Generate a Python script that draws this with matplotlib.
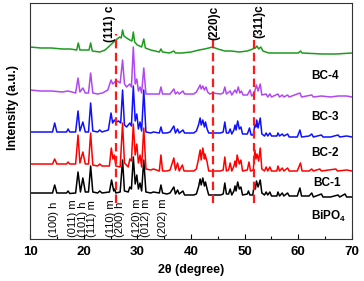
import matplotlib
matplotlib.use("Agg")
import matplotlib.pyplot as plt
from matplotlib.ticker import MultipleLocator

plt.rcParams['font.family'] = ['Liberation Sans', 'DejaVu Sans']
plt.rcParams['mathtext.fontset'] = 'custom'
plt.rcParams['mathtext.rm'] = 'Liberation Sans'
plt.rcParams['mathtext.bf'] = 'Liberation Sans:bold'

# ---------------- data (2theta in degree, intensity in a.u., stacked) -------------
bipo4_x = [10, 12, 14.2, 14.6, 15.0, 16.8, 17.1, 17.4, 18.5, 18.95, 19.4, 19.85, 20.3, 20.9, 21.3, 21.7,
           22.6, 23.0, 23.4, 24.8, 25.2, 25.6, 25.8, 26.0, 26.8, 27.25, 27.6, 28.3, 28.6, 28.9, 29.25, 29.6,
           29.9, 30.2, 30.5, 30.8, 31.2, 31.6, 32.5, 33.0, 34.1, 34.4, 34.7, 35.5, 36.1, 36.8, 37.1, 37.5,
           37.8, 38.5, 38.8, 40.5, 41.0, 41.4, 41.7, 41.9, 42.2, 42.5, 42.7, 43.0, 43.3, 44.0, 45.5, 46.0,
           46.3, 46.6, 47.0, 47.3, 47.6, 48.0, 48.2, 48.4, 48.7, 49.0, 49.3, 49.6, 50.5, 50.7, 51.0, 51.5,
           51.8, 52.0, 52.2, 52.5, 52.9, 53.2, 53.7, 54.0, 54.3, 54.7, 55.0, 56.0, 56.2, 56.5, 57.0, 57.3,
           58.0, 58.3, 59.8, 60.3, 60.6, 62.0, 62.5, 62.8, 64.3, 64.6, 66.0, 67.4, 67.7, 68.7, 69.0, 70]
bipo4_y = [46, 46, 46, 54, 46, 46, 48, 45.5, 46, 67, 47, 61, 47, 47, 73, 47,
           46, 48, 46, 47, 59, 48, 50, 46, 47, 79, 48, 47, 52, 50, 82, 55,
           64, 50, 56, 48, 79, 47, 46, 47, 46, 54, 46, 45, 46, 52, 45, 49,
           45, 48, 44, 44, 45, 52, 60, 54, 61, 53, 57, 50, 44, 44, 44, 45,
           56, 45, 45, 50, 44, 48, 53, 48, 57, 50, 52, 44, 45, 48, 44, 44,
           54, 50, 58, 52, 59, 46, 44, 47, 44, 47, 43, 43, 47, 43, 46, 43,
           46, 43, 43, 51, 43, 43, 46, 42, 45, 42, 42, 44, 42, 45, 42, 42]

bc1_x = [10, 12, 14.2, 14.6, 15.0, 16.8, 17.1, 17.4, 18.5, 18.95, 19.3, 19.85, 20.3, 20.9, 21.3, 21.7,
         22.6, 23.0, 23.4, 24.8, 25.15, 25.45, 25.7, 26.0, 26.8, 27.25, 27.6, 28.3, 28.6, 28.9, 29.25, 29.6,
         29.9, 30.2, 30.5, 30.8, 31.2, 31.6, 32.5, 33.0, 34.1, 34.4, 34.7, 35.5, 36.1, 36.8, 37.1, 37.5,
         37.8, 38.4, 38.7, 40.5, 41.0, 41.4, 41.7, 41.9, 42.2, 42.5, 42.6, 43.0, 43.3, 45.5, 46.0, 46.3,
         46.6, 47.0, 47.3, 47.6, 48.0, 48.2, 48.4, 48.6, 49.0, 49.3, 49.6, 50.5, 50.8, 51.1, 51.6, 51.9,
         52.1, 52.3, 52.6, 52.9, 53.2, 53.7, 54.0, 54.3, 54.7, 55.0, 56.0, 56.2, 56.5, 57.0, 57.3, 58.0,
         58.3, 59.8, 60.4, 60.7, 62.0, 62.5, 62.8, 64.0, 64.3, 67.0, 67.3, 69.0, 70]
bc1_y = [75, 75, 75, 80, 75, 75, 77, 75, 75, 104, 76, 87, 75, 75, 106, 74,
         73, 75, 73, 73, 91, 80, 84, 73, 72, 116, 76, 72, 80, 78, 115, 84,
         95, 76, 84, 72, 111, 70, 69, 70, 68, 84, 68, 68, 69, 81, 69, 76,
         68, 74, 68, 68, 70, 80, 89, 79, 91, 80, 85, 77, 68, 68, 69, 82,
         68, 69, 76, 68, 73, 78, 72, 84, 75, 79, 68, 69, 77, 68, 69, 89,
         80, 85, 78, 91, 70, 68, 72, 68, 72, 68, 68, 73, 68, 71, 68, 71,
         68, 68, 76, 68, 68, 70, 68, 70, 68, 70, 68, 69, 68]

bc2_x = [10, 12, 14.2, 14.6, 15.0, 16.8, 17.1, 17.4, 18.5, 18.95, 19.3, 19.85, 20.3, 20.9, 21.3, 21.7,
         22.6, 23.0, 23.4, 24.6, 25.1, 25.4, 25.7, 26.0, 26.5, 26.9, 27.25, 27.6, 28.0, 28.6, 28.9, 29.25,
         29.6, 29.9, 30.2, 30.5, 30.8, 31.2, 31.6, 32.5, 33.0, 34.1, 34.4, 34.7, 35.5, 36.1, 36.8, 37.1,
         37.5, 37.8, 38.5, 38.8, 40.5, 41.0, 41.4, 41.7, 41.9, 42.2, 42.5, 42.7, 43.0, 43.3, 45.5, 46.0,
         46.3, 46.6, 47.0, 47.3, 47.6, 48.0, 48.2, 48.4, 48.7, 49.0, 49.3, 49.6, 50.5, 50.9, 51.2, 51.6,
         51.9, 52.1, 52.25, 52.5, 52.9, 53.2, 53.7, 54.0, 54.3, 54.7, 55.0, 56.0, 56.2, 56.5, 57.0, 57.3,
         58.0, 58.3, 59.8, 60.3, 60.6, 62.0, 62.5, 62.8, 64.3, 64.6, 66.0, 67.4, 67.7, 69.0, 70]
bc2_y = [107, 107, 107, 116, 107, 107, 110, 107, 107, 128, 108, 117, 107, 107, 136, 108,
         107, 109, 107, 109, 126, 116, 119, 117, 118, 116, 149, 114, 112, 116, 113, 153,
         118, 125, 110, 117, 108, 149, 107, 106, 107, 106, 112, 106, 106, 107, 113, 106,
         110, 106, 109, 106, 106, 108, 114, 121, 114, 119, 112, 117, 110, 106, 106, 107,
         117, 106, 106, 110, 105, 109, 114, 109, 118, 110, 112, 105, 105, 111, 104, 104,
         114, 112, 119, 111, 121, 105, 103, 106, 103, 106, 103, 103, 106, 103, 105, 103,
         105, 102, 102, 109, 102, 103, 105, 102, 104, 102, 102, 104, 102, 103, 102]

bc3_x = [10, 12, 14.0, 16.0, 17.1, 18.5, 18.95, 19.3, 19.85, 20.3, 20.9, 21.3, 21.7, 22.6, 23.5, 24.5,
         25.1, 25.4, 25.8, 26.3, 26.8, 27.25, 27.6, 28.0, 28.6, 28.9, 29.25, 29.6, 29.9, 30.2, 30.5, 30.8,
         31.2, 31.6, 32.5, 34.1, 34.4, 34.7, 36.1, 36.8, 37.1, 37.5, 37.8, 38.5, 38.8, 40.5, 41.0, 41.4,
         41.7, 41.9, 42.2, 42.5, 42.8, 43.1, 43.5, 44.0, 45.5, 46.0, 46.3, 46.6, 47.3, 47.6, 48.2, 48.5,
         48.8, 49.1, 49.4, 49.7, 50.5, 51.0, 51.3, 51.8, 52.2, 52.5, 52.9, 53.2, 54.0, 54.3, 54.7, 55.0,
         56.2, 56.5, 57.0, 57.3, 58.0, 58.3, 60.3, 60.6, 62.5, 62.8, 64.3, 66.0, 67.4, 69.0, 70]
bc3_y = [149, 148, 148, 147, 148, 146, 161, 147, 151, 146, 146, 166, 146, 145, 146, 149,
         159, 155, 157, 158, 156, 179, 155, 152, 155, 152, 192, 155, 160, 148, 152, 146,
         171, 145, 145, 145, 152, 145, 145, 150, 145, 147, 145, 148, 145, 145, 147, 151,
         154, 150, 153, 149, 152, 147, 145, 146, 145, 146, 152, 145, 148, 144, 149, 146,
         152, 146, 148, 144, 144, 149, 143, 146, 154, 148, 155, 144, 145, 142, 145, 142,
         145, 142, 144, 142, 144, 142, 146, 142, 144, 142, 143, 142, 143, 143, 142]

bc4_x = [10, 12, 14, 16, 17.5, 18.7, 19.0, 19.3, 20.5, 21.0, 21.3, 21.6, 23.0, 24.0, 25.0, 26.0,
         26.7, 27.0, 27.25, 27.5, 28.0, 28.6, 29.0, 29.25, 29.5, 30.0, 30.8, 31.2, 31.5, 32.5, 34.1, 34.4,
         34.7, 36.0, 36.8, 37.1, 38.3, 40.0, 41.5, 42.5, 43.3, 44.0, 45.0, 46.3, 47.5, 49.0, 50.5, 51.5,
         52.0, 52.3, 52.6, 53.0, 53.4, 54.5, 57.0, 60.0, 60.4, 60.7, 64.5, 67.0, 70]
bc4_y = [192, 191, 191, 190, 190, 189, 196, 189, 189, 189, 196, 188, 187, 189, 194, 199,
         202, 201, 209, 203, 201, 199, 198, 207, 197, 194, 192, 200, 191, 189, 187, 190,
         187, 186, 188, 186, 186, 187, 189, 190, 191, 192, 190, 188, 188, 187, 188, 190,
         191, 193, 190, 192, 188, 186, 186, 186, 188, 186, 185, 185, 186]

series_x = [bipo4_x, bc1_x, bc2_x, bc3_x, bc4_x]
series_y = [bipo4_y, bc1_y, bc2_y, bc3_y, bc4_y]
series_names = ['BiPO$_\\mathbf{4}$', 'BC-1', 'BC-2', 'BC-3', 'BC-4']
series_colors = ['#000000', '#ff0000', '#1010ff', '#b048f0', '#1e9a1e']

cu2o_pos = [26.0, 44.1, 51.7]
cu2o_labels = ['(111) c', '(220)c', '(311)c']

bipo4_peak_pos = [14.5, 18.1, 19.85, 21.5, 25.1, 26.8, 29.9, 31.7, 34.7]
bipo4_peak_labels = ['(100) h', '(011) m', '(101) h', '(111) m', '(110) m', '(200) h',
                     '(120) m', '(012) m', '(202) m']

# ---------------- figure ----------------
fig = plt.figure(figsize=(3.64, 2.81), dpi=100)
ax = fig.add_axes([30 / 364, 42 / 281, 322 / 364, 236 / 281])

for xs, ys, c in zip(series_x, series_y, series_colors):
    ax.plot(xs, ys, color=c, lw=1.1, zorder=2)

for p in cu2o_pos:
    ax.plot([p, p], [36, 205], color='#ff1a1a', lw=1.6, dashes=(3.8, 2.0), zorder=3)

ax.text(24.9, 197, cu2o_labels[0], rotation=90, ha='center', va='bottom',
        fontsize=8.5, fontweight='bold')
ax.text(44.3, 199, cu2o_labels[1], rotation=90, ha='center', va='bottom',
        fontsize=8.5, fontweight='bold')
ax.text(52.7, 201, cu2o_labels[2], rotation=90, ha='center', va='bottom',
        fontsize=8.5, fontweight='bold')

for p, lab in zip(bipo4_peak_pos, bipo4_peak_labels):
    ax.text(p, 2, lab, rotation=90, ha='center', va='bottom', fontsize=8)

label_xy = [(65.7, 23), (65.3, 56), (65.0, 86), (65.0, 122), (65.0, 163)]
for (lx, ly), name in zip(label_xy, series_names):
    ax.text(lx, ly, name, ha='center', va='center', fontsize=8.5, fontweight='bold')

ax.set_xlim(10, 70)
ax.set_ylim(0, 236)
ax.xaxis.set_major_locator(MultipleLocator(10))
ax.xaxis.set_minor_locator(MultipleLocator(5))
ax.set_yticks([])
ax.tick_params(axis='x', which='major', direction='in', length=3.5, width=0.8, pad=5,
               labelsize=9.5)
ax.tick_params(axis='x', which='minor', direction='in', length=2, width=0.8)
for lab in ax.get_xticklabels():
    lab.set_fontweight('bold')
for s in ax.spines.values():
    s.set_linewidth(0.8)
    s.set_color('#333333')

ax.set_xlabel('2θ (degree)', fontsize=9, fontweight='bold', labelpad=4)
ax.set_ylabel('Intensity (a.u.)', fontsize=9, fontweight='bold')
ax.yaxis.set_label_coords(-0.035, 0.557)

fig.savefig('out.png', dpi=100)
